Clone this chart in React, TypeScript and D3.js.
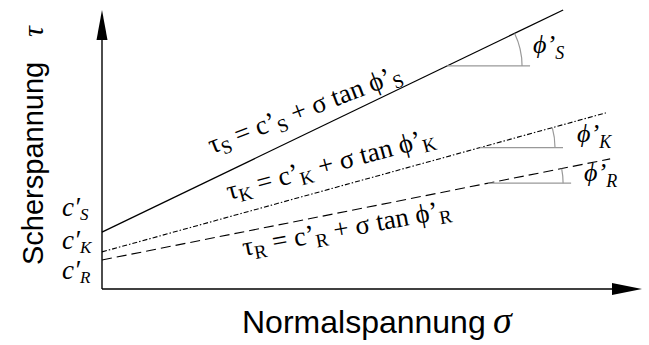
import * as d3 from 'd3'

// Mohr-Coulomb envelopes: S, K, R
const names = ['S', 'K', 'R']
const cohesion = [20.4, 13.3, 10.4]
const tanPhi = [0.932, 0.534, 0.385]
const sigmaEnd = [85.4, 93.3, 94.1]
const markStart = [63.9, 70.0, 71.5]
const dashes = ['none', '5 2 1.5 2', '10 5']

const W = 649
const H = 345
const serif = '"Liberation Serif", "Times New Roman", serif'
const sans = '"Liberation Sans", Arial, sans-serif'

type Part = { t: string; sub?: boolean }

function parts(list: Part[], size: number, subSize: number, shift: number) {
  let down = false
  return list.map((p, i) => {
    let dy = 0
    if (p.sub && !down) { dy = shift; down = true }
    if (!p.sub && down) { dy = -shift; down = false }
    return (
      <tspan key={i} dy={dy} fontSize={p.sub ? subSize : size}>{p.t}</tspan>
    )
  })
}

const eqPlace = [
  { x: 212, y: 154, rot: -21 },
  { x: 229, y: 200, rot: -15 },
  { x: 244, y: 256, rot: -10.6 },
]
const phiPlace = [
  { x: 533, y: 53 },
  { x: 577, y: 142 },
  { x: 584, y: 181 },
]
const cPlace = [
  { x: 62, y: 216 },
  { x: 62, y: 249 },
  { x: 62, y: 279 },
]

export default function App() {
  const x = d3.scaleLinear().domain([0, 100]).range([102, 642])
  const y = d3.scaleLinear().domain([0, 100]).range([289, 10])
  const line = d3.line<number[]>().x(d => x(d[0])).y(d => y(d[1]))
  const pxPerX = (x(1) - x(0))
  const pxPerY = (y(0) - y(1))
  const r = 75

  return (
    <svg width={W} height={H} style={{ position: 'absolute', left: 0, top: 0, background: '#fff' }}>
      {/* axes */}
      <line x1={x(0)} y1={y(0)} x2={x(0)} y2={y(100) + 20} stroke="#000" strokeWidth={1.4} />
      <line x1={x(0)} y1={y(0)} x2={x(100) - 20} y2={y(0)} stroke="#000" strokeWidth={1.4} />
      <polygon points={`${x(0)},${y(100)} ${x(0) - 5.5},${y(100) + 30} ${x(0) + 5.5},${y(100) + 30}`} fill="#000" />
      <polygon points={`${x(100)},${y(0)} ${x(100) - 30},${y(0) - 6} ${x(100) - 30},${y(0) + 6}`} fill="#000" />

      {/* envelopes and angle marks */}
      {names.map((n, i) => {
        const c = cohesion[i]
        const t = tanPhi[i]
        const a = markStart[i]
        const px = x(a)
        const py = y(c + t * a)
        const th = Math.atan(t * pxPerY / pxPerX)
        const p = d3.path()
        p.moveTo(px + r, py)
        p.arc(px, py, r, 0, -th, true)
        return (
          <g key={n}>
            <path d={line([[0, c], [sigmaEnd[i], c + t * sigmaEnd[i]]]) ?? ''}
              stroke="#000" strokeWidth={i === 0 ? 1.3 : 1.1} fill="none"
              strokeDasharray={dashes[i]} />
            <line x1={px} y1={py} x2={px + r + 8} y2={py} stroke="#999" strokeWidth={1.2} />
            <path d={p.toString()} stroke="#999" strokeWidth={1.2} fill="none" />
          </g>
        )
      })}

      {/* equations */}
      {names.map((n, i) => {
        const e = eqPlace[i]
        const list: Part[] = [
          { t: 'τ' }, { t: n, sub: true },
          { t: ' = c\u2019' }, { t: n, sub: true },
          { t: i === 1 ? ' +  σ tan ϕ\u2019' : ' + σ tan ϕ\u2019' }, { t: n, sub: true },
        ]
        return (
          <text key={n} transform={`translate(${e.x},${e.y}) rotate(${e.rot})`}
            fontFamily={serif} fill="#000">
            {parts(list, 27, 19, 5)}
          </text>
        )
      })}

      {/* angle labels */}
      {names.map((n, i) => (
        <text key={n} x={phiPlace[i].x} y={phiPlace[i].y} fontFamily={serif} fontStyle="italic" fill="#000">
          {parts([{ t: 'ϕ\u2019' }, { t: n, sub: true }], 26, 18, 6)}
        </text>
      ))}

      {/* cohesion labels */}
      {names.map((n, i) => (
        <text key={n} x={cPlace[i].x} y={cPlace[i].y} fontFamily={serif} fontStyle="italic" fill="#000">
          {parts([{ t: 'c\u2032' }, { t: n, sub: true }], 27, 17, 4)}
        </text>
      ))}

      {/* axis titles */}
      <g transform="translate(43,265) rotate(-90)">
        <text fontFamily={sans} fontSize={29} fill="#000">Scherspannung</text>
        <text x={228} fontFamily={serif} fontStyle="italic" fontSize={30} fill="#000">τ</text>
      </g>
      <text x={242} y={333} fontFamily={sans} fontSize={32} fill="#000">Normalspannung</text>
      <text x={493} y={333} fontFamily={serif} fontStyle="italic" fontSize={38} fill="#000">σ</text>
    </svg>
  )
}
